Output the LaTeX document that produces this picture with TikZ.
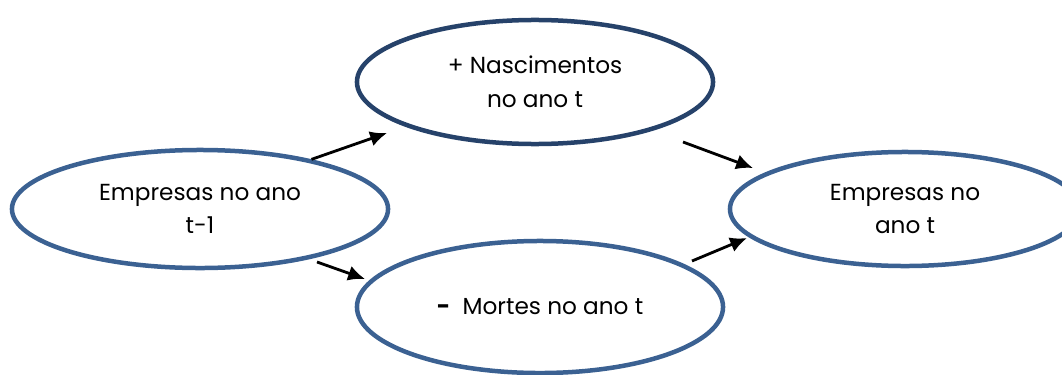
\documentclass[tikz,border=0pt]{standalone}
\usepackage{fontspec}
\setmainfont{Poppins}
\usetikzlibrary{shapes.geometric, arrows.meta}

\definecolor{bordaazul}{HTML}{3B6192}
\definecolor{bordaescura}{HTML}{26426A}

\begin{document}
\begin{tikzpicture}[
    x=0.025cm, y=-0.025cm,
    every node/.style={ellipse, draw=bordaazul, line width=3.2pt, align=center, inner sep=0pt,
        font=\fontsize{16.5}{24}\selectfont},
    arrow/.style={-{Latex[length=12pt,width=11pt]}, line width=2pt, black}
]
\useasboundingbox (0,0) rectangle (1062,374);

% Empresas e fluxos
\node[minimum width=9.4cm, minimum height=2.95cm] (anterior) at (200,209) {Empresas no ano\\t-1};
\node[draw=bordaescura, minimum width=8.9cm, minimum height=3.1cm] (nascimentos) at (535,82) {+ Nascimentos\\no ano t};
\node[minimum width=9.15cm, minimum height=3.3cm] (mortes) at (540,307) {\raisebox{-0.12cm}{\textbf{-}\ \ Mortes no ano t}};
\node[minimum width=8.75cm, minimum height=2.85cm] (atual) at (905,209) {Empresas no\\ano t};

% Pontas das setas
\coordinate (nasc in) at (387,133);
\coordinate (nasc out) at (683,142);
\coordinate (mort in) at (365,279);
\coordinate (mort out) at (692,261);
\coordinate (ant out) at (317,262);
\coordinate (atual top) at (753,168);
\coordinate (atual bot) at (747,238);

% Setas
\draw[arrow] (anterior.24) -- (nasc in);
\draw[arrow] (ant out) -- (mort in);
\draw[arrow] (nasc out) -- (atual top);
\draw[arrow] (mort out) -- (atual bot);

\end{tikzpicture}
\end{document}
